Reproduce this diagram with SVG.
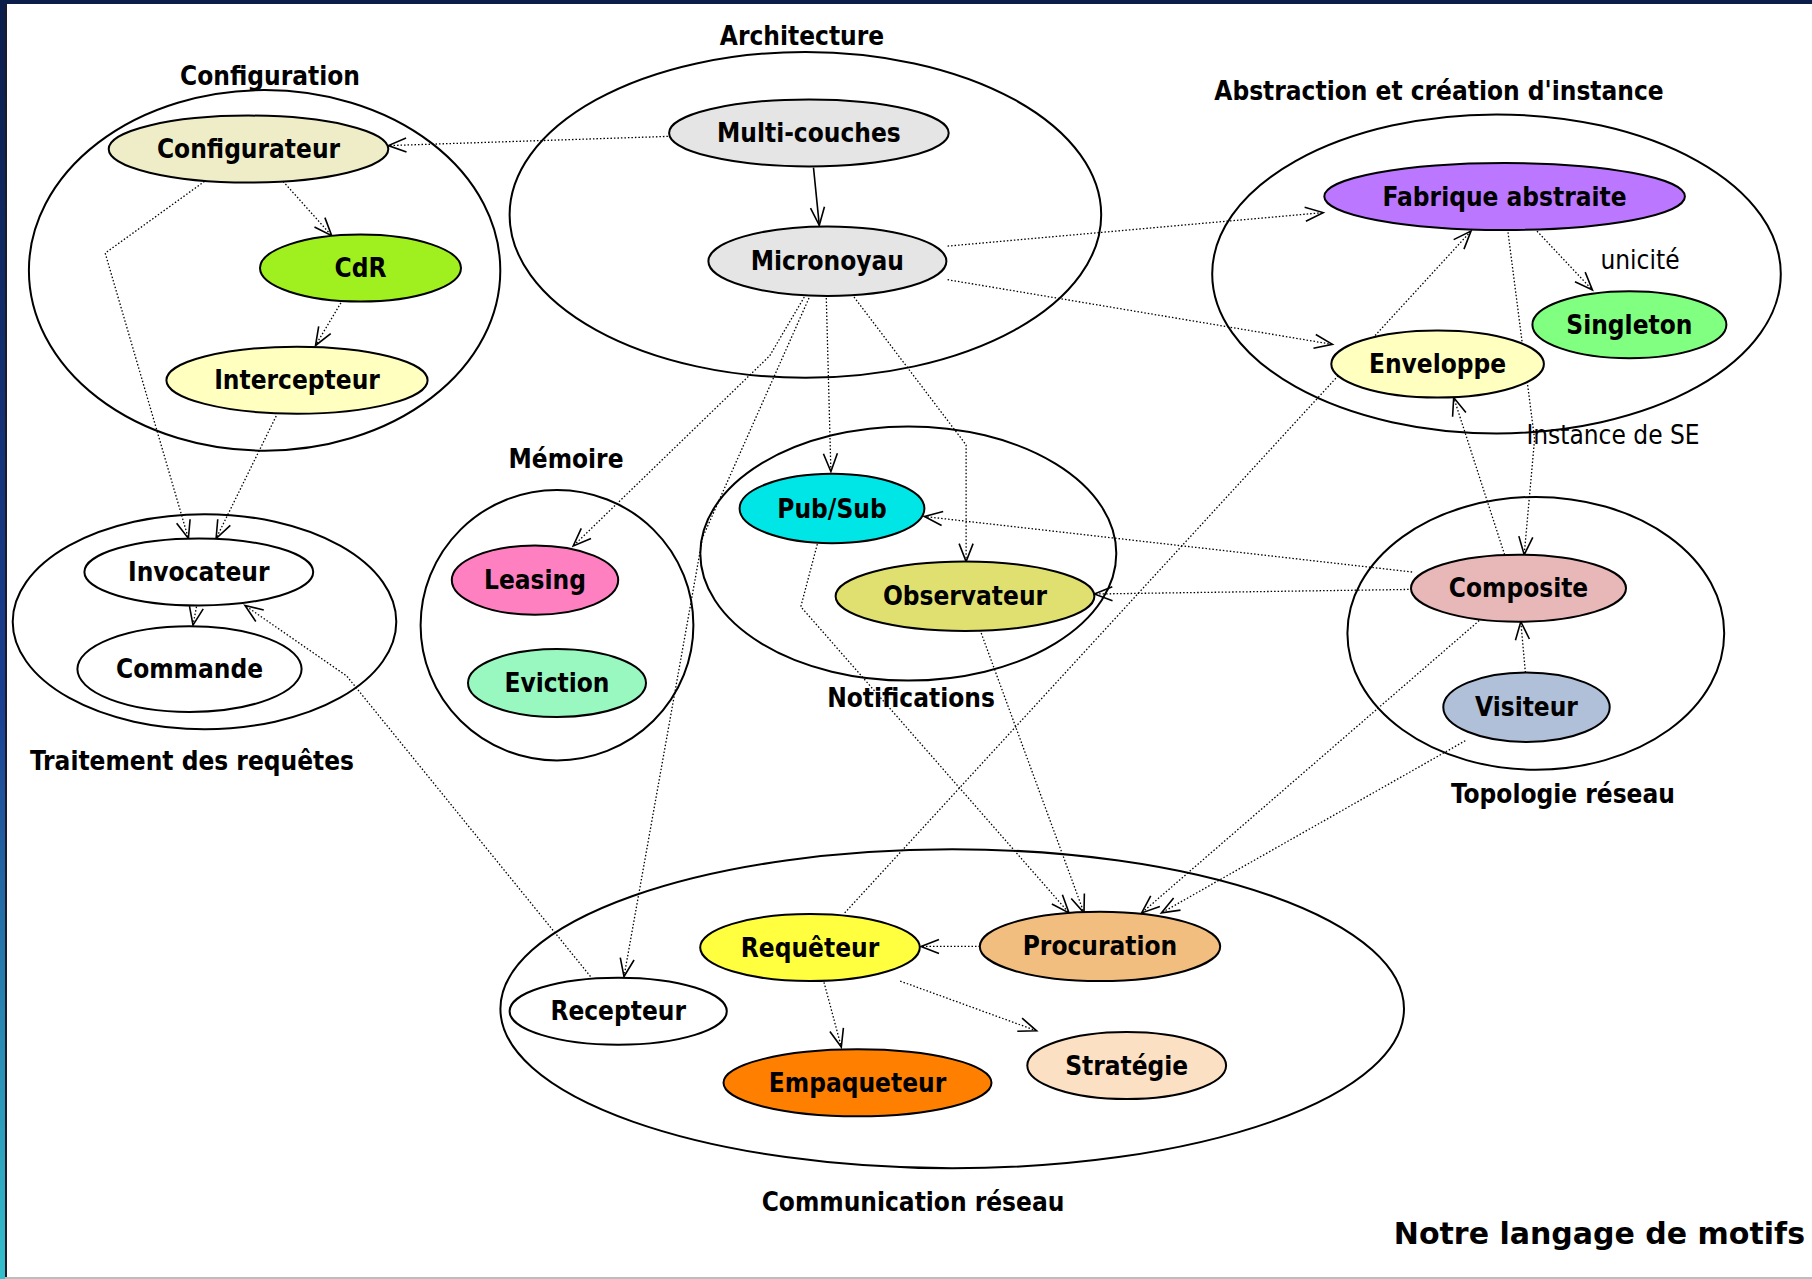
<svg xmlns="http://www.w3.org/2000/svg" width="1812" height="1279" viewBox="0 0 1812 1279">
  <defs>
    <linearGradient id="edgeBand" x1="0" y1="0" x2="0" y2="1">
      <stop offset="0" stop-color="#0b1d4a"/>
      <stop offset="0.55" stop-color="#1b3f91"/>
      <stop offset="1" stop-color="#34c0cc"/>
    </linearGradient>
    <marker id="vee" markerUnits="userSpaceOnUse" markerWidth="24" markerHeight="20" refX="20" refY="8" orient="auto" overflow="visible">
      <path d="M2,1 L20,8 L2,15" fill="none" stroke="#000" stroke-width="1.6"/>
    </marker>
    <style>
      .cluster { fill: none; stroke: #000; stroke-width: 2; }
      .node ellipse { stroke: #000; stroke-width: 2; }
      .lbl { font-family: "DejaVu Sans Condensed", "DejaVu Sans", sans-serif; font-stretch: condensed; font-weight: bold; font-size: 26px; fill: #000; text-anchor: middle; }
      .note { font-family: "DejaVu Sans Condensed", "DejaVu Sans", sans-serif; font-stretch: condensed; font-size: 26px; fill: #000; text-anchor: middle; }
      .title { font-family: "DejaVu Sans", sans-serif; font-weight: bold; font-size: 30px; fill: #000; text-anchor: end; }
      .dot { fill: none; stroke: #000; stroke-width: 1.3; stroke-dasharray: 1.5 2; marker-end: url(#vee); }
      .solid { fill: none; stroke: #000; stroke-width: 1.6; marker-end: url(#vee); }
    </style>
  </defs>

  <!-- page -->
  <rect x="0" y="0" width="1812" height="1279" fill="#fff"/>
  <rect x="0" y="0" width="1812" height="4" fill="#0b1d4a"/>
  <rect x="0" y="0" width="5" height="1279" fill="url(#edgeBand)"/>
  <rect x="5" y="4" width="2" height="1275" fill="#1a1a2a"/>
  <rect x="5" y="1277" width="1807" height="2" fill="#bdbdbd"/>

  <!-- pattern families -->
  <g id="clusters">
    <g id="cl-configuration">
      <ellipse class="cluster" cx="264.6" cy="270.4" rx="235.7" ry="180.3"/>
      <text class="lbl" x="270" y="85">Configuration</text>
    </g>
    <g id="cl-architecture">
      <ellipse class="cluster" cx="805.4" cy="214.9" rx="295.8" ry="162.9"/>
      <text class="lbl" x="802" y="45">Architecture</text>
    </g>
    <g id="cl-abstraction">
      <ellipse class="cluster" cx="1496.5" cy="273.9" rx="284.3" ry="159.5"/>
      <text class="lbl" x="1439" y="100">Abstraction et création d'instance</text>
    </g>
    <g id="cl-traitement">
      <ellipse class="cluster" cx="204.5" cy="621.7" rx="191.8" ry="107.5"/>
      <text class="lbl" x="192" y="770">Traitement des requêtes</text>
    </g>
    <g id="cl-memoire">
      <ellipse class="cluster" cx="557" cy="625.2" rx="136.4" ry="135.2"/>
      <text class="lbl" x="566" y="468">Mémoire</text>
    </g>
    <g id="cl-notifications">
      <ellipse class="cluster" cx="908.3" cy="553.5" rx="208" ry="127.1"/>
      <text class="lbl" x="911" y="707">Notifications</text>
    </g>
    <g id="cl-topologie">
      <ellipse class="cluster" cx="1535.8" cy="633.3" rx="188.4" ry="136.4"/>
      <text class="lbl" x="1563" y="803">Topologie réseau</text>
    </g>
    <g id="cl-communication">
      <ellipse class="cluster" cx="952.2" cy="1008.8" rx="451.8" ry="159.5"/>
      <text class="lbl" x="913" y="1211">Communication réseau</text>
    </g>
  </g>

  <!-- connectors -->
  <g id="connectors">
    <path class="solid" d="M813.5,167.6 L819.3,225.3"/>
    <path class="dot" d="M667.9,136.4 L388.3,145.6"/>
    <path class="dot" d="M283.1,181.4 L331.7,235.7"/>
    <path class="dot" d="M340.9,302.8 L315.5,345.5"/>
    <path class="dot" d="M204.5,181.4 L105.2,253.1 L188.4,538.5"/>
    <path class="dot" d="M276.2,416 L216.1,538.5"/>
    <path class="dot" d="M196.5,606.7 L193,625.2"/>
    <path class="dot" d="M590.5,976.5 L346.7,676 L245,605.5"/>
    <path class="dot" d="M947.6,246.1 L1323.2,212.6"/>
    <path class="dot" d="M947.6,279.7 L1332.4,344.4"/>
    <path class="dot" d="M826.3,298.1 L830.9,471.5"/>
    <path class="dot" d="M854,297 L966.1,444.9 L966.1,561.6"/>
    <path class="dot" d="M804.3,297 L769.6,355.9 L573.2,546"/>
    <path class="dot" d="M809,298 L702.6,537.4 L624,976.5"/>
    <path class="dot" d="M818.2,540.8 L800.8,606.7 L1069,912.9"/>
    <path class="dot" d="M980,629.8 L1084,912.9"/>
    <path class="dot" d="M1412.1,572 L924.5,516.5"/>
    <path class="dot" d="M1412.1,589.4 L1094.4,594"/>
    <path class="dot" d="M1504.6,554.7 L1453.7,397.5"/>
    <path class="dot" d="M1508,232.3 L1534.6,439.1 L1524.2,554.7"/>
    <path class="dot" d="M1537,231.1 L1592.4,290"/>
    <path class="dot" d="M1525.4,672.6 L1520.8,621.7"/>
    <path class="dot" d="M844.7,912.9 L1471,231.1"/>
    <path class="dot" d="M1479.2,620.6 L1141.7,912.9"/>
    <path class="dot" d="M1465.3,740.7 L1161.4,912.9"/>
    <path class="dot" d="M980,946.4 L921,946.4"/>
    <path class="dot" d="M824,982.3 L841.3,1047"/>
    <path class="dot" d="M900.2,981.1 L1036.6,1030.8"/>
    <text class="note" x="1640" y="269">unicité</text>
    <text class="note" x="1613" y="444">Instance de SE</text>
  </g>

  <!-- patterns -->
  <g id="n-configurateur" class="node"><ellipse cx="248.5" cy="149.1" rx="139.8" ry="33.5" fill="#eeedc8"/><text class="lbl" x="248.5" y="158">Configurateur</text></g>
  <g id="n-cdr" class="node"><ellipse cx="360.5" cy="268.1" rx="100.5" ry="33.5" fill="#a0f020"/><text class="lbl" x="360.5" y="277">CdR</text></g>
  <g id="n-intercepteur" class="node"><ellipse cx="297" cy="380.2" rx="130.6" ry="33.5" fill="#ffffc0"/><text class="lbl" x="297" y="389">Intercepteur</text></g>
  <g id="n-multicouches" class="node"><ellipse cx="808.9" cy="132.9" rx="139.8" ry="33.5" fill="#e5e5e5"/><text class="lbl" x="808.9" y="142">Multi-couches</text></g>
  <g id="n-micronoyau" class="node"><ellipse cx="827.4" cy="261.2" rx="119" ry="34.7" fill="#e5e5e5"/><text class="lbl" x="827.4" y="270">Micronoyau</text></g>
  <g id="n-fabrique" class="node"><ellipse cx="1504.6" cy="196.5" rx="180.3" ry="33.5" fill="#bb77ff"/><text class="lbl" x="1504.6" y="205.5">Fabrique abstraite</text></g>
  <g id="n-singleton" class="node"><ellipse cx="1629.4" cy="324.7" rx="97" ry="33.5" fill="#80ff80"/><text class="lbl" x="1629.4" y="333.7">Singleton</text></g>
  <g id="n-enveloppe" class="node"><ellipse cx="1437.6" cy="364" rx="106.3" ry="33.5" fill="#ffffc0"/><text class="lbl" x="1437.6" y="373">Enveloppe</text></g>
  <g id="n-invocateur" class="node"><ellipse cx="198.8" cy="572" rx="114.4" ry="33.5" fill="#fff"/><text class="lbl" x="198.8" y="581">Invocateur</text></g>
  <g id="n-commande" class="node"><ellipse cx="189.5" cy="669.1" rx="112.1" ry="42.8" fill="#fff"/><text class="lbl" x="189.5" y="678">Commande</text></g>
  <g id="n-leasing" class="node"><ellipse cx="535" cy="580.1" rx="83.2" ry="34.7" fill="#ff80c0"/><text class="lbl" x="535" y="589">Leasing</text></g>
  <g id="n-eviction" class="node"><ellipse cx="557" cy="683" rx="89" ry="34" fill="#98f8c0"/><text class="lbl" x="557" y="692">Eviction</text></g>
  <g id="n-pubsub" class="node"><ellipse cx="832" cy="508.5" rx="92.4" ry="34.7" fill="#00e5e5"/><text class="lbl" x="832" y="517.5">Pub/Sub</text></g>
  <g id="n-observateur" class="node"><ellipse cx="965" cy="596.3" rx="129.4" ry="34.7" fill="#e0e070"/><text class="lbl" x="965" y="605.3">Observateur</text></g>
  <g id="n-composite" class="node"><ellipse cx="1518.5" cy="588.2" rx="107.5" ry="33.5" fill="#e8b8b8"/><text class="lbl" x="1518.5" y="597.2">Composite</text></g>
  <g id="n-visiteur" class="node"><ellipse cx="1526.5" cy="707.2" rx="83.2" ry="34.7" fill="#b0c0d8"/><text class="lbl" x="1526.5" y="716.2">Visiteur</text></g>
  <g id="n-requeteur" class="node"><ellipse cx="810" cy="947.6" rx="109.8" ry="33.5" fill="#ffff40"/><text class="lbl" x="810" y="956.6">Requêteur</text></g>
  <g id="n-procuration" class="node"><ellipse cx="1100" cy="946.4" rx="120.2" ry="34.7" fill="#f2be80"/><text class="lbl" x="1100" y="955.4">Procuration</text></g>
  <g id="n-recepteur" class="node"><ellipse cx="618.2" cy="1011.2" rx="108.6" ry="33.5" fill="#fff"/><text class="lbl" x="618.2" y="1020.2">Recepteur</text></g>
  <g id="n-empaqueteur" class="node"><ellipse cx="857.5" cy="1082.8" rx="134" ry="33.5" fill="#ff8000"/><text class="lbl" x="857.5" y="1091.8">Empaqueteur</text></g>
  <g id="n-strategie" class="node"><ellipse cx="1126.7" cy="1065.5" rx="99.4" ry="33.5" fill="#fbe0c4"/><text class="lbl" x="1126.7" y="1074.5">Stratégie</text></g>

  <text class="title" x="1805" y="1244">Notre langage de motifs</text>
</svg>
